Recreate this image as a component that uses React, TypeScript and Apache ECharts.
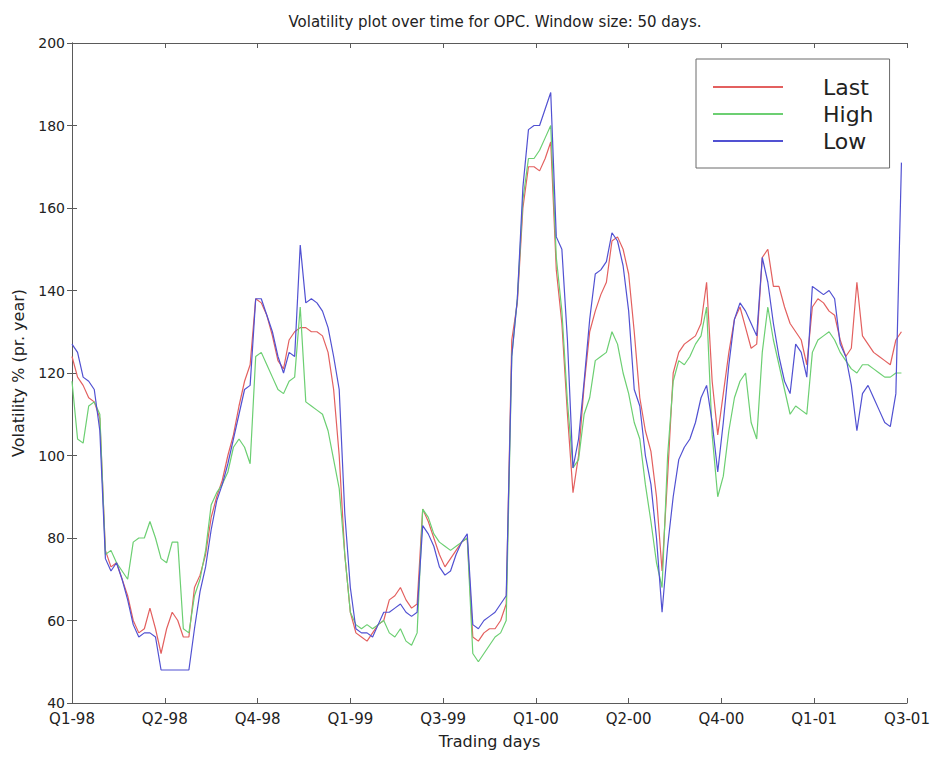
import React, { useEffect, useRef } from "react";
import * as echarts from "echarts";

// Sampling step of the volatility series, in trading days
const DAY_STEP = 6;

// Quarter labels placed every 100 trading days
const tickLabels = [
  "Q1-98", "Q2-98", "Q4-98", "Q1-99", "Q3-99",
  "Q1-00", "Q2-00", "Q4-00", "Q1-01", "Q3-01",
];

// 50-day rolling volatility (% per year), one value every DAY_STEP days
const lastVol = [
  124, 119, 117, 114, 113, 109, 77, 73, 74, 70,
  66, 60, 57, 58, 63, 58, 52, 58, 62, 60,
  56, 56, 68, 71, 76, 85, 90, 94, 100, 105,
  112, 118, 122, 138, 137, 134, 129, 123, 121, 128,
  130, 131, 131, 130, 130, 129, 125, 116, 100, 76,
  62, 57, 56, 55, 57, 59, 60, 65, 66, 68,
  65, 63, 64, 87, 84, 80, 76, 73, 75, 77,
  79, 80, 56, 55, 57, 58, 58, 60, 64, 128,
  137, 160, 170, 170, 169, 172, 176, 145, 132, 110,
  91, 100, 117, 130, 135, 139, 142, 152, 153, 150,
  144, 130, 114, 106, 101, 90, 72, 95, 120, 125,
  127, 128, 129, 132, 142, 118, 105, 115, 125, 133,
  136, 131, 126, 127, 148, 150, 141, 141, 136, 132,
  130, 128, 122, 136, 138, 137, 135, 134, 128, 124,
  126, 142, 129, 127, 125, 124, 123, 122, 128, 130,
];

const highVol = [
  118, 104, 103, 112, 113, 110, 76, 77, 74, 72,
  70, 79, 80, 80, 84, 80, 75, 74, 79, 79,
  58, 57, 66, 70, 77, 88, 91, 93, 96, 102,
  104, 102, 98, 124, 125, 122, 119, 116, 115, 118,
  119, 136, 113, 112, 111, 110, 106, 99, 92, 76,
  62, 59, 58, 59, 58, 59, 60, 57, 56, 58,
  55, 54, 57, 87, 85, 81, 79, 78, 77, 78,
  79, 80, 52, 50, 52, 54, 56, 57, 60, 124,
  138, 162, 172, 172, 174, 177, 180, 148, 135, 113,
  97, 99, 110, 114, 123, 124, 125, 130, 127, 120,
  115, 108, 104, 93, 84, 74, 68, 100, 118, 123,
  122, 124, 127, 129, 136, 105, 90, 95, 106, 114,
  118, 120, 108, 104, 125, 136, 128, 122, 116, 110,
  112, 111, 110, 125, 128, 129, 130, 128, 125, 123,
  121, 120, 122, 122, 121, 120, 119, 119, 120, 120,
];

const lowVol = [
  127, 125, 119, 118, 116, 106, 75, 72, 74, 70,
  65, 59, 56, 57, 57, 56, 48, 48, 48, 48,
  48, 48, 58, 67, 73, 82, 89, 93, 98, 104,
  110, 116, 117, 138, 138, 134, 130, 124, 120, 125,
  124, 151, 137, 138, 137, 135, 131, 124, 116, 86,
  68, 58, 57, 57, 56, 59, 62, 62, 63, 64,
  62, 61, 62, 83, 81, 78, 73, 71, 72, 76,
  79, 81, 59, 58, 60, 61, 62, 64, 66, 124,
  138, 165, 179, 180, 180, 184, 188, 153, 150, 128,
  97, 104, 118, 133, 144, 145, 147, 154, 152, 146,
  135, 116, 112, 100, 93, 80, 62, 78, 90, 99,
  102, 104, 108, 114, 117, 108, 96, 108, 122, 133,
  137, 135, 132, 129, 148, 142, 132, 124, 118, 115,
  127, 125, 119, 141, 140, 139, 140, 138, 127, 124,
  117, 106, 115, 117, 114, 111, 108, 107, 115, 171,
];

const seriesDefs = [
  { name: "Last", values: lastVol, color: "#e3605f" },
  { name: "High", values: highVol, color: "#6ccf72" },
  { name: "Low", values: lowVol, color: "#5151d2" },
];

const FONT = "'DejaVu Sans', Verdana, sans-serif";
const AXIS_COLOR = "#5a5a5a";
const TEXT_COLOR = "#222";

export default function App() {
  const ref = useRef<HTMLDivElement>(null);

  useEffect(() => {
    document.body.style.margin = "0";
    if (!ref.current) return;
    const chart = echarts.init(ref.current, undefined, { renderer: "svg" });

    const xBase = {
      type: "value" as const,
      min: 0,
      max: 900,
      interval: 100,
      splitLine: { show: false },
      axisLine: { show: true, lineStyle: { color: AXIS_COLOR, width: 1 } },
      axisTick: { show: true, inside: true, length: 5, lineStyle: { color: AXIS_COLOR } },
    };
    const yBase = {
      type: "value" as const,
      min: 40,
      max: 200,
      interval: 20,
      splitLine: { show: false },
      axisLine: { show: true, lineStyle: { color: AXIS_COLOR, width: 1 } },
      axisTick: { show: true, inside: true, length: 5, lineStyle: { color: AXIS_COLOR } },
    };

    chart.setOption({
      animation: false,
      backgroundColor: "#ffffff",
      textStyle: { fontFamily: FONT },
      title: {
        text: "Volatility plot over time for OPC. Window size: 50 days.",
        left: 490,
        top: 9,
        textAlign: "center",
        textStyle: { fontSize: 15, fontWeight: "normal", color: TEXT_COLOR, fontFamily: FONT },
      },
      grid: { left: 72, right: 28, top: 43, bottom: 54, containLabel: false },
      legend: {
        orient: "vertical",
        left: 696,
        top: 59,
        padding: [16, 16, 15, 17],
        itemGap: 3,
        itemWidth: 70,
        itemHeight: 2,
        icon: "rect",
        backgroundColor: "#ffffff",
        borderColor: "#6a6a6a",
        borderWidth: 1,
        borderRadius: 0,
        selectedMode: false,
        textStyle: {
          fontSize: 22,
          color: TEXT_COLOR,
          fontFamily: FONT,
          lineHeight: 24,
          padding: [0, 0, 0, 35],
        },
        data: seriesDefs.map((s) => s.name),
      },
      xAxis: [
        {
          ...xBase,
          position: "bottom",
          name: "Trading days",
          nameLocation: "middle",
          nameGap: 30,
          nameTextStyle: { fontSize: 16, color: TEXT_COLOR, fontFamily: FONT },
          axisLabel: {
            show: true,
            margin: 8,
            fontSize: 15,
            color: TEXT_COLOR,
            fontFamily: FONT,
            formatter: (v: number) => tickLabels[Math.round(v / 100)] ?? "",
          },
        },
        { ...xBase, position: "top", axisLabel: { show: false } },
      ],
      yAxis: [
        {
          ...yBase,
          position: "left",
          name: "Volatility % (pr. year)",
          nameLocation: "middle",
          nameGap: 46,
          nameTextStyle: { fontSize: 16, color: TEXT_COLOR, fontFamily: FONT },
          axisLabel: { show: true, margin: 7, fontSize: 14, color: TEXT_COLOR, fontFamily: FONT },
        },
        { ...yBase, position: "right", axisLabel: { show: false } },
      ],
      series: seriesDefs.map((s) => ({
        name: s.name,
        type: "line",
        xAxisIndex: 0,
        yAxisIndex: 0,
        showSymbol: false,
        symbol: "none",
        color: s.color,
        lineStyle: { color: s.color, width: 1.2 },
        data: s.values.map((v, i) => [i * DAY_STEP, v]),
      })),
    });

    return () => chart.dispose();
  }, []);

  return <div ref={ref} style={{ width: 935, height: 757 }} />;
}
